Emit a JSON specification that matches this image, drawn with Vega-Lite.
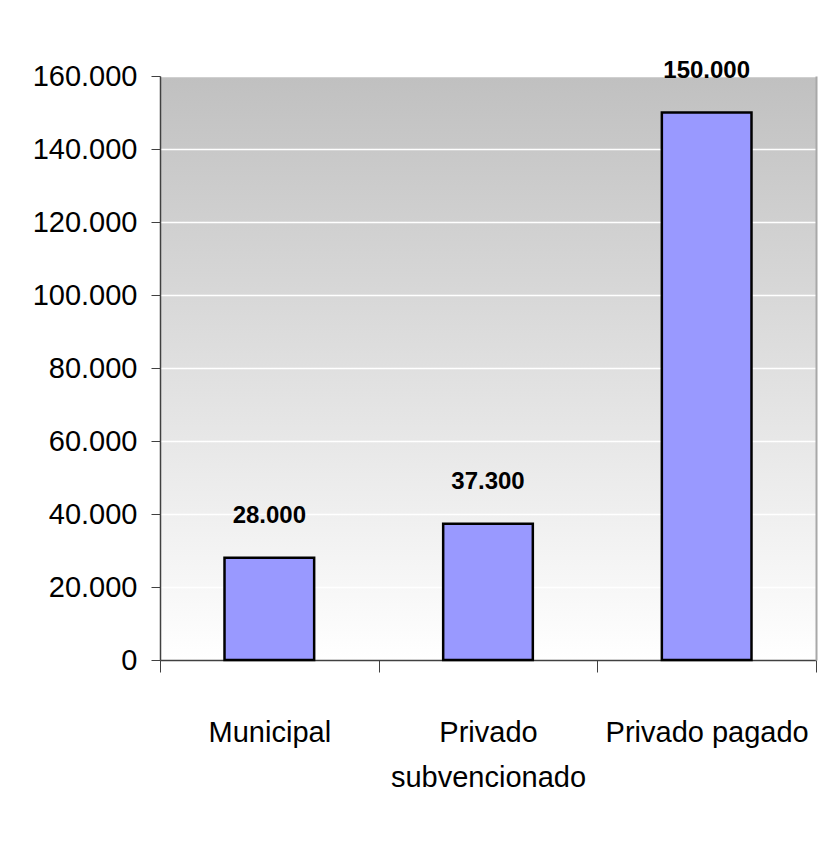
{
  "$schema": "https://vega.github.io/schema/vega-lite/v6.json",
  "width": 656,
  "height": 584,
  "autosize": {"type": "none"},
  "padding": {"left": 160, "top": 76, "right": 5, "bottom": 190},
  "background": "white",
  "data": {"values": [
    {"tipo": "Municipal", "valor": 28000},
    {"tipo": "Privado subvencionado", "valor": 37300},
    {"tipo": "Privado pagado", "valor": 150000}
  ]},
  "encoding": {
    "x": {"field": "tipo", "type": "nominal", "sort": null,
      "scale": {"paddingInner": 0, "paddingOuter": 0},
      "axis": {"title": null, "labelAngle": 0, "tickBand": "extent", "tickSize": 12, "tickColor": "#404040", "tickWidth": 1,
        "domainColor": "#404040", "domainWidth": 1.5, "labelPadding": 46, "labelLineHeight": 45, "labelLimit": 400,
        "labelExpr": "datum.value == 'Privado subvencionado' ? ['Privado', 'subvencionado'] : datum.value"}}
  },
  "layer": [
    {
      "mark": {"type": "bar", "width": {"band": 0.41}, "color": "#9999ff", "stroke": "black", "strokeWidth": 2.5},
      "encoding": {
        "y": {"field": "valor", "type": "quantitative",
          "scale": {"domain": [0, 160000], "nice": false},
          "axis": {"title": null, "format": ",d", "values": [0,20000,40000,60000,80000,100000,120000,140000,160000],
            "tickSize": 9, "tickColor": "#404040", "domainColor": "#404040", "domainWidth": 1.5, "labelPadding": 14,
            "grid": true, "gridColor": "#ffffff", "gridWidth": 1.5}}
      }
    },
    {
      "mark": {"type": "text", "fontWeight": "bold", "fontSize": 24, "baseline": "bottom", "dy": -30, "color": "black"},
      "encoding": {
        "y": {"field": "valor", "type": "quantitative",
          "scale": {"domain": [0, 160000], "nice": false},
          "axis": {"orient": "right", "title": null, "labels": false, "ticks": false, "grid": false, "domainColor": "#a8a8a8", "domainWidth": 2}},
        "text": {"field": "valor", "type": "quantitative", "format": ",d"}
      }
    }
  ],
  "resolve": {"scale": {"y": "independent"}},
  "config": {
    "locale": {"number": {"decimal": ",", "thousands": ".", "grouping": [3], "currency": ["$", ""]}},
    "font": "Liberation Sans",
    "axis": {"labelFont": "Liberation Sans", "labelFontSize": 29, "labelColor": "black", "labelFontWeight": "normal"},
    "text": {"font": "Liberation Sans"},
    "view": {"stroke": null, "fill": {"gradient": "linear", "x1": 0, "y1": 0, "x2": 0, "y2": 1,
      "stops": [{"offset": 0, "color": "#c0c0c0"}, {"offset": 1, "color": "#ffffff"}]}}
  }
}
